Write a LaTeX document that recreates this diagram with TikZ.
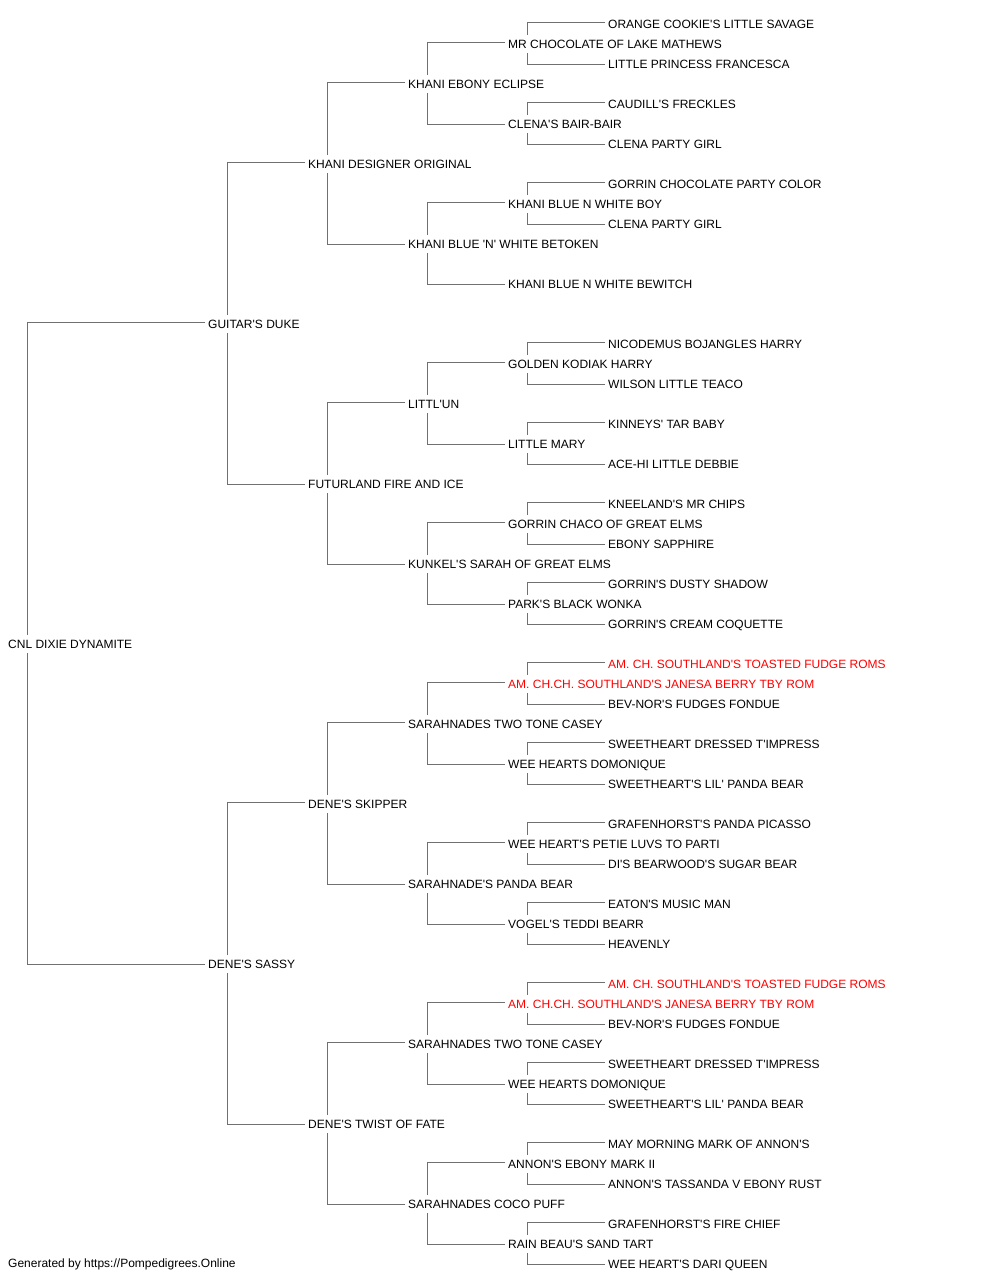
\documentclass[tikz,border=0pt]{standalone}
\usepackage{fontspec}
\setmainfont{Liberation Sans}[Ligatures=TeXOff]
\usetikzlibrary{backgrounds}
\definecolor{linegray}{RGB}{112,112,112}
\definecolor{romred}{RGB}{255,0,0}
\begin{document}
\begin{tikzpicture}[x=1bp,y=-1bp,
  dog/.style={anchor=west, fill=white, inner xsep=1bp, inner ysep=5bp,
    text height=8.6bp, text depth=0bp, font=\fontsize{12bp}{14bp}\selectfont, text=black},
  champ/.style={dog, text=romred},
  conn/.style={draw=linegray, line width=1.8bp}]
\useasboundingbox (0,0) rectangle (1000,1280);

% root and generation 1-3
\node[dog] (r31) at (7,643.8) {CNL DIXIE DYNAMITE};
\node[dog] (r15) at (207,323.8) {GUITAR'S DUKE};
\node[dog] (r47) at (207,963.8) {DENE'S SASSY};
\node[dog] (r7)  at (307,163.8) {KHANI DESIGNER ORIGINAL};
\node[dog] (r23) at (307,483.8) {FUTURLAND FIRE AND ICE};
\node[dog] (r39) at (307,803.8) {DENE'S SKIPPER};
\node[dog] (r55) at (307,1123.8) {DENE'S TWIST OF FATE};
\node[dog] (r3)  at (407,83.8) {KHANI EBONY ECLIPSE};
\node[dog] (r11) at (407,243.8) {KHANI BLUE 'N' WHITE BETOKEN};
\node[dog] (r19) at (407,403.8) {LITTL'UN};
\node[dog] (r27) at (407,563.8) {KUNKEL'S SARAH OF GREAT ELMS};
\node[dog] (r35) at (407,723.8) {SARAHNADES TWO TONE CASEY};
\node[dog] (r43) at (407,883.8) {SARAHNADE'S PANDA BEAR};
\node[dog] (r51) at (407,1043.8) {SARAHNADES TWO TONE CASEY};
\node[dog] (r59) at (407,1203.8) {SARAHNADES COCO PUFF};

% generation 4
\node[dog] (r1)  at (507,43.8) {MR CHOCOLATE OF LAKE MATHEWS};
\node[dog] (r5)  at (507,123.8) {CLENA'S BAIR-BAIR};
\node[dog] (r9)  at (507,203.8) {KHANI BLUE N WHITE BOY};
\node[dog] (r13) at (507,283.8) {KHANI BLUE N WHITE BEWITCH};
\node[dog] (r17) at (507,363.8) {GOLDEN KODIAK HARRY};
\node[dog] (r21) at (507,443.8) {LITTLE MARY};
\node[dog] (r25) at (507,523.8) {GORRIN CHACO OF GREAT ELMS};
\node[dog] (r29) at (507,603.8) {PARK'S BLACK WONKA};
\node[champ] (r33) at (507,683.8) {AM. CH.CH. SOUTHLAND'S JANESA BERRY TBY ROM};
\node[dog] (r37) at (507,763.8) {WEE HEARTS DOMONIQUE};
\node[dog] (r41) at (507,843.8) {WEE HEART'S PETIE LUVS TO PARTI};
\node[dog] (r45) at (507,923.8) {VOGEL'S TEDDI BEARR};
\node[champ] (r49) at (507,1003.8) {AM. CH.CH. SOUTHLAND'S JANESA BERRY TBY ROM};
\node[dog] (r53) at (507,1083.8) {WEE HEARTS DOMONIQUE};
\node[dog] (r57) at (507,1163.8) {ANNON'S EBONY MARK II};
\node[dog] (r61) at (507,1243.8) {RAIN BEAU'S SAND TART};

% generation 5
\node[dog] (r0)  at (607,23.8) {ORANGE COOKIE'S LITTLE SAVAGE};
\node[dog] (r2)  at (607,63.8) {LITTLE PRINCESS FRANCESCA};
\node[dog] (r4)  at (607,103.8) {CAUDILL'S FRECKLES};
\node[dog] (r6)  at (607,143.8) {CLENA PARTY GIRL};
\node[dog] (r8)  at (607,183.8) {GORRIN CHOCOLATE PARTY COLOR};
\node[dog] (r10) at (607,223.8) {CLENA PARTY GIRL};
\node[dog] (r16) at (607,343.8) {NICODEMUS BOJANGLES HARRY};
\node[dog] (r18) at (607,383.8) {WILSON LITTLE TEACO};
\node[dog] (r20) at (607,423.8) {KINNEYS' TAR BABY};
\node[dog] (r22) at (607,463.8) {ACE-HI LITTLE DEBBIE};
\node[dog] (r24) at (607,503.8) {KNEELAND'S MR CHIPS};
\node[dog] (r26) at (607,543.8) {EBONY SAPPHIRE};
\node[dog] (r28) at (607,583.8) {GORRIN'S DUSTY SHADOW};
\node[dog] (r30) at (607,623.8) {GORRIN'S CREAM COQUETTE};
\node[champ] (r32) at (607,663.8) {AM. CH. SOUTHLAND'S TOASTED FUDGE ROMS};
\node[dog] (r34) at (607,703.8) {BEV-NOR'S FUDGES FONDUE};
\node[dog] (r36) at (607,743.8) {SWEETHEART DRESSED T'IMPRESS};
\node[dog] (r38) at (607,783.8) {SWEETHEART'S LIL' PANDA BEAR};
\node[dog] (r40) at (607,823.8) {GRAFENHORST'S PANDA PICASSO};
\node[dog] (r42) at (607,863.8) {DI'S BEARWOOD'S SUGAR BEAR};
\node[dog] (r44) at (607,903.8) {EATON'S MUSIC MAN};
\node[dog] (r46) at (607,943.8) {HEAVENLY};
\node[champ] (r48) at (607,983.8) {AM. CH. SOUTHLAND'S TOASTED FUDGE ROMS};
\node[dog] (r50) at (607,1023.8) {BEV-NOR'S FUDGES FONDUE};
\node[dog] (r52) at (607,1063.8) {SWEETHEART DRESSED T'IMPRESS};
\node[dog] (r54) at (607,1103.8) {SWEETHEART'S LIL' PANDA BEAR};
\node[dog] (r56) at (607,1143.8) {MAY MORNING MARK OF ANNON'S};
\node[dog] (r58) at (607,1183.8) {ANNON'S TASSANDA V EBONY RUST};
\node[dog] (r60) at (607,1223.8) {GRAFENHORST'S FIRE CHIEF};
\node[dog] (r62) at (607,1263.8) {WEE HEART'S DARI QUEEN};

\node[dog, text depth=2.5bp] (footer) at (7,1264.8) {Generated by https://Pompedigrees.Online};

\begin{scope}[on background layer]
\fill[white] (0,0) rectangle (1000,1280);
\foreach \p/\s/\d in {r31/r15/r47, r15/r7/r23, r47/r39/r55,
  r7/r3/r11, r23/r19/r27, r39/r35/r43, r55/r51/r59,
  r3/r1/r5, r11/r9/r13, r19/r17/r21, r27/r25/r29,
  r35/r33/r37, r43/r41/r45, r51/r49/r53, r59/r57/r61,
  r1/r0/r2, r5/r4/r6, r9/r8/r10, r17/r16/r18, r21/r20/r22,
  r25/r24/r26, r29/r28/r30, r33/r32/r34, r37/r36/r38,
  r41/r40/r42, r45/r44/r46, r49/r48/r50, r53/r52/r54,
  r57/r56/r58, r61/r60/r62}{
  \draw[conn] ([xshift=-2bp,yshift=1.3bp]\s.west) -| ([xshift=20.5bp]\p.west);
  \draw[conn] ([xshift=-2bp,yshift=-0.7bp]\d.west) -| ([xshift=20.5bp]\p.west);
}
\end{scope}
\end{tikzpicture}
\end{document}
